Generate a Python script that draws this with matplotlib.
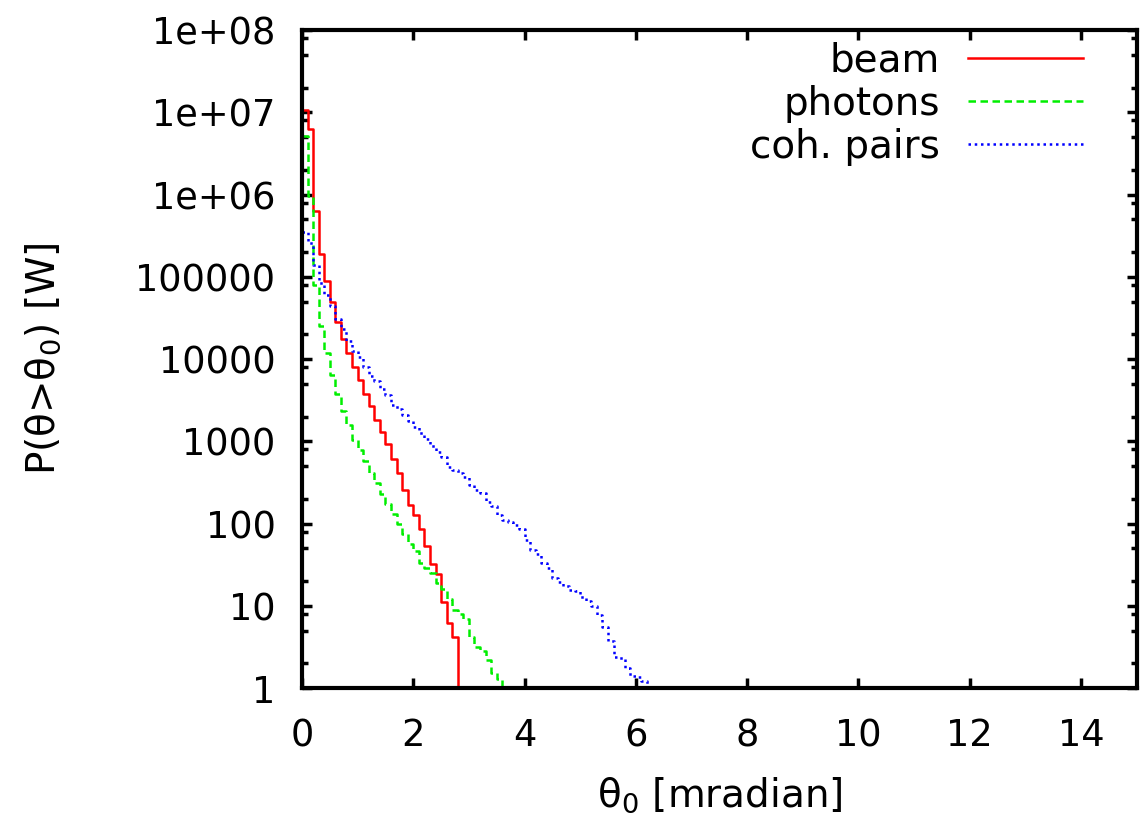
import numpy as np
import matplotlib
matplotlib.use("Agg")
import matplotlib.pyplot as plt
from matplotlib.ticker import LogLocator, NullFormatter, FixedLocator

# integrated power above theta_0, histogram bins of 0.1 mrad starting at 0
bin_width = 0.1
beam = [1.07e7, 6.3e6, 6.3e5, 1.9e5, 89000, 49000, 28000, 17600, 11800, 8100,
        5600, 3800, 2700, 1800, 1300, 940, 610, 410, 255, 170,
        129, 86, 54, 32.5, 24.6, 11.2, 6.2, 4.15]
photons = [5.1e6, 9.6e5, 79000, 25400, 11800, 6450, 3800, 2350, 1590, 1050,
           795, 575, 415, 315, 229, 172, 133, 100, 76, 56,
           46, 33, 29, 25, 19, 16, 12, 9.0, 7.9, 7.0,
           4.2, 3.2, 2.8, 2.2, 1.55, 1.3]
coh_pairs = [3.5e5, 2.57e5, 1.4e5, 8.4e4, 6.0e4, 4.4e4, 3.1e4, 2.35e4, 1.67e4, 1.26e4,
             1.05e4, 8100, 6300, 5400, 4300, 3700, 2800, 2500, 2100, 1750,
             1480, 1260, 1060, 880, 740, 650, 490, 450, 415, 370,
             295, 257, 236, 183, 165, 128, 112, 105, 97, 87,
             64, 48, 43, 33, 29, 22, 19.4, 17.3, 15.5, 15,
             12.7, 11.4, 9.9, 7.7, 5.5, 3.8, 2.4, 2.35, 1.77, 1.4,
             1.38, 1.23]

labels = ["beam", "photons", "coh. pairs"]
colors = ["#ff0000", "#00ee00", "#0000ff"]

plt.rcParams['font.family'] = ['DejaVu Sans']
fig = plt.figure(figsize=(11.43, 8.22), dpi=100)
ax = fig.add_axes([0.2642, 0.1627, 0.9944 - 0.2642, 0.9635 - 0.1627])

styles = [dict(linestyle='-'), dict(dashes=(3, 1.8)), dict(dashes=(1.0, 1.5))]
for vals, lab, col, st in zip([beam, photons, coh_pairs], labels, colors, styles):
    y = np.append(vals, 0.0)
    x = np.arange(len(y)) * bin_width
    ax.step(x, y, where='post', color=col, lw=1.8, label=lab, **st)

ax.set_yscale('log', nonpositive='clip')
ax.set_xlim(0, 15)
ax.set_ylim(1, 1e8)

ax.xaxis.set_major_locator(FixedLocator([0, 2, 4, 6, 8, 10, 12, 14]))
ax.yaxis.set_major_locator(LogLocator(base=10, numticks=20))
ax.yaxis.set_minor_locator(LogLocator(base=10, subs=[2, 5, 8], numticks=20))
ax.yaxis.set_minor_formatter(NullFormatter())
ytick_vals = [1, 10, 100, 1000, 10000, 100000, 1e6, 1e7, 1e8]
ytick_labels = ["1", "10", "100", "1000", "10000", "100000", "1e+06", "1e+07", "1e+08"]
ax.set_yticks(ytick_vals)
ax.set_yticklabels(ytick_labels)

ax.tick_params(which='both', direction='in', top=True, right=True, width=2.5,
               labelsize=26.5)
ax.tick_params(axis='y', which='major', length=7, pad=19)
ax.tick_params(axis='x', which='major', length=7, pad=21)
ax.tick_params(which='minor', length=4)
for sp in ax.spines.values():
    sp.set_linewidth(3)

ax.set_xlabel(r"$\mathregular{\theta_0}$ [mradian]", fontsize=28, labelpad=15)
ax.set_ylabel(r"P($\mathregular{\theta}$>$\mathregular{\theta_0}$) [W]", fontsize=28, labelpad=52)

leg = ax.legend(loc='upper right', bbox_to_anchor=(0.936, 0.982), frameon=False,
                markerfirst=False, fontsize=28, handlelength=2.96,
                handletextpad=0.72, labelspacing=0.13, borderpad=0, borderaxespad=0)

fig.savefig("out.png", dpi=100)
